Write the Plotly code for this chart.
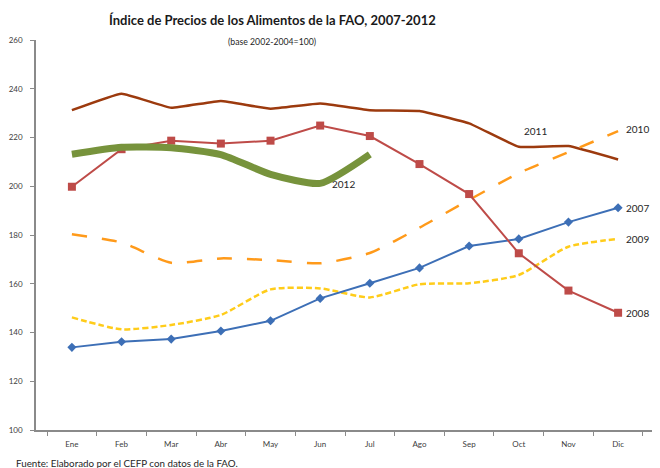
import plotly.graph_objects as go

months = ["Ene", "Feb", "Mar", "Abr", "May", "Jun", "Jul", "Ago", "Sep", "Oct", "Nov", "Dic"]
y2007 = [133.9, 136.2, 137.3, 140.6, 144.8, 154.0, 160.2, 166.5, 175.5, 178.4, 185.3, 191.2]
y2008 = [199.8, 215.2, 218.7, 217.5, 218.7, 224.9, 220.6, 209.1, 196.8, 172.5, 157.2, 148.1]
y2009 = [146.2, 141.3, 143.1, 147.2, 157.7, 158.1, 154.4, 159.8, 160.2, 163.6, 175.2, 178.4]
y2010 = [180.3, 176.9, 168.6, 170.4, 169.7, 168.4, 172.6, 183.0, 194.4, 205.4, 214.0, 222.6]
y2011 = [231.2, 238.0, 232.2, 235.0, 231.8, 233.9, 231.2, 230.9, 225.8, 216.2, 216.5, 211.0]
y2012 = [213.1, 216.0, 215.8, 213.0, 204.9, 201.2, 213.1]
ytick_vals = [100, 120, 140, 160, 180, 200, 220, 240, 260]

fig = go.Figure()
fig.add_trace(go.Scatter(x=months, y=y2011, mode="lines", name="2011",
                         line=dict(color="#9C3A0E", width=2.5, shape="spline", smoothing=0.3)))
fig.add_trace(go.Scatter(x=months, y=y2010, mode="lines", name="2010",
                         line=dict(color="#FF9A1A", width=2.5, dash="longdash", shape="spline", smoothing=0.6)))
fig.add_trace(go.Scatter(x=months, y=y2009, mode="lines", name="2009",
                         line=dict(color="#FFCC1A", width=2.5, dash="6px,3px", shape="spline", smoothing=0.6)))
fig.add_trace(go.Scatter(x=months, y=y2007, mode="lines+markers", name="2007",
                         line=dict(color="#3D6FB6", width=2),
                         marker=dict(symbol="diamond", size=7, color="#3D6FB6")))
fig.add_trace(go.Scatter(x=months, y=y2008, mode="lines+markers", name="2008",
                         line=dict(color="#BE4B48", width=2),
                         marker=dict(symbol="square", size=8, color="#BE4B48")))
fig.add_trace(go.Scatter(x=months[:len(y2012)], y=y2012, mode="lines", name="2012",
                         line=dict(color="#77933C", width=7, shape="spline", smoothing=0.6)))

lab_font = dict(family="Lato, Arial", size=10, color="#262626")
fig.add_annotation(x="Oct", y=y2011[9], text="2011", showarrow=False, xshift=17, yshift=16, font=lab_font)
fig.add_annotation(x="Jun", y=y2012[5], text="2012", showarrow=False, xshift=23, yshift=-1, font=lab_font)
fig.add_annotation(x="Dic", y=y2010[11], text="2010", showarrow=False, xanchor="left", xshift=6, yshift=2, font=lab_font)
fig.add_annotation(x="Dic", y=y2007[11], text="2007", showarrow=False, xanchor="left", xshift=6, yshift=0, font=lab_font)
fig.add_annotation(x="Dic", y=y2009[11], text="2009", showarrow=False, xanchor="left", xshift=6, yshift=0, font=lab_font)
fig.add_annotation(x="Dic", y=y2008[11], text="2008", showarrow=False, xanchor="left", xshift=6, yshift=0, font=lab_font)

fig.add_annotation(xref="paper", yref="paper", x=0.382, y=1, yshift=20, yanchor="middle",
                   text="<b>Índice de Precios de los Alimentos de la FAO, 2007-2012</b>",
                   showarrow=False, font=dict(family="Lato, Arial", size=13, color="#1a1a1a"))
fig.add_annotation(xref="paper", yref="paper", x=0.382, y=1, yshift=-1, yanchor="middle",
                   text="(base 2002-2004=100)", showarrow=False,
                   font=dict(family="Lato, Arial", size=8.7, color="#262626"))
fig.add_annotation(xref="paper", yref="paper", x=-0.036, xanchor="left", y=0, yshift=-33, yanchor="middle",
                   text="Fuente: Elaborado por el CEFP con datos de la FAO.", showarrow=False,
                   font=dict(family="Lato, Arial", size=9.8, color="#262626"))

fig.update_layout(
    width=652, height=460,
    margin=dict(l=28, r=6, t=32, b=38),
    plot_bgcolor="white", paper_bgcolor="white",
    showlegend=False,
    font=dict(family="Lato, Arial", size=8, color="#404040"),
)
fig.update_xaxes(type="category", showline=True, linecolor="#8a8a8a", linewidth=1.5,
                 ticks="outside", tickson="boundaries", ticklen=4, tickcolor="#8a8a8a",
                 ticklabelstandoff=6,
                 showgrid=False, automargin=False, tickfont=dict(size=8, color="#404040"))
fig.update_yaxes(range=[100, 260], tickvals=ytick_vals, showline=True, linecolor="#8a8a8a", linewidth=1.5,
                 ticks="outside", ticklen=4, tickcolor="#8a8a8a", showgrid=False, zeroline=False,
                 ticklabelstandoff=6,
                 automargin=False, tickfont=dict(size=8, color="#404040"))

fig.write_html("out.html")
